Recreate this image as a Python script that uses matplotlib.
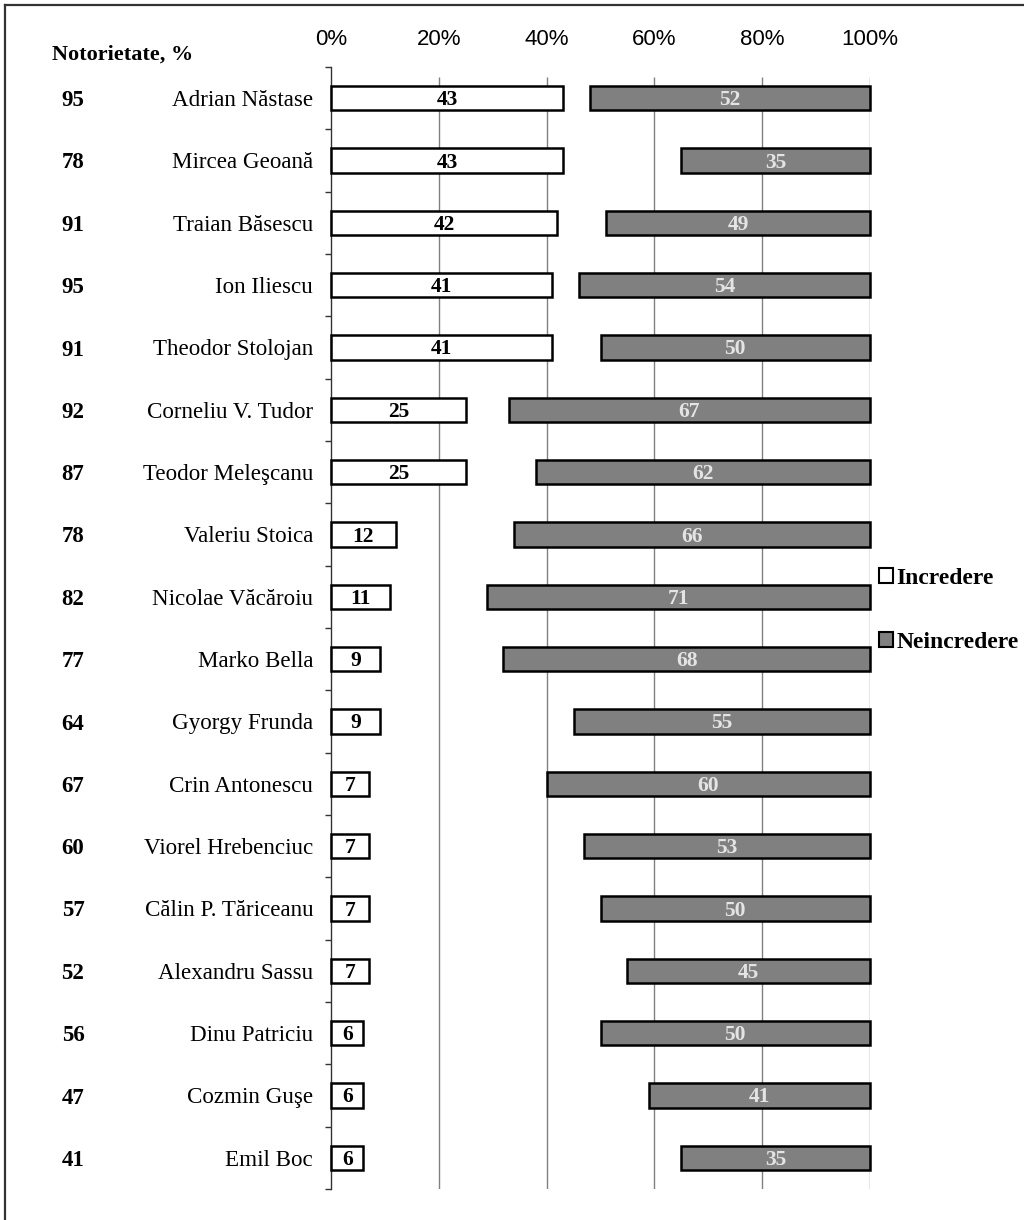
import matplotlib
matplotlib.use("Agg")
import matplotlib.pyplot as plt
import matplotlib.transforms as mtransforms
from matplotlib.patches import Patch
from matplotlib.lines import Line2D

names = ["Adrian Năstase", "Mircea Geoană", "Traian Băsescu", "Ion Iliescu",
         "Theodor Stolojan", "Corneliu V. Tudor", "Teodor Meleşcanu", "Valeriu Stoica",
         "Nicolae Văcăroiu", "Marko Bella", "Gyorgy Frunda", "Crin Antonescu",
         "Viorel Hrebenciuc", "Călin P. Tăriceanu", "Alexandru Sassu", "Dinu Patriciu",
         "Cozmin Guşe", "Emil Boc"]
incredere = [43, 43, 42, 41, 41, 25, 25, 12, 11, 9, 9, 7, 7, 7, 7, 6, 6, 6]
neincredere = [52, 35, 49, 54, 50, 67, 62, 66, 71, 68, 55, 60, 53, 50, 45, 50, 41, 35]
notorietate = [95, 78, 91, 95, 91, 92, 87, 78, 82, 77, 64, 67, 60, 57, 52, 56, 47, 41]
xticks = [0, 20, 40, 60, 80, 100]
xtick_labels = ["0%", "20%", "40%", "60%", "80%", "100%"]

SERIF = ["Liberation Serif", "DejaVu Serif"]
SANS = ["Liberation Sans", "DejaVu Sans"]
GRAY = "#808080"

W, H = 1024, 1220
fig = plt.figure(figsize=(W / 100, H / 100), dpi=100)
ax = fig.add_axes([331 / W, 1 - 1189 / H, 539 / W, (1189 - 67) / H])

n = len(names)
ypos = list(range(n))
bh = 0.39

b1 = ax.barh(ypos, incredere, height=bh, left=0, color="white",
             edgecolor="black", linewidth=1.8, zorder=3)
left_n = [100 - v for v in neincredere]
b2 = ax.barh(ypos, neincredere, height=bh, left=left_n, color=GRAY,
             edgecolor="black", linewidth=1.8, zorder=3)
for p in list(b1) + list(b2):
    p.set_clip_on(False)

ax.set_xlim(0, 100)
ax.set_ylim(n - 0.5, -0.5)

# gridlines
ax.vlines(xticks[1:], -0.34, n - 0.5, color=GRAY, linewidth=1.0, zorder=1)

# spines
for s in ["top", "right", "bottom"]:
    ax.spines[s].set_visible(False)
ax.spines["left"].set_linewidth(1.0)
ax.spines["left"].set_color("#333333")

ax.set_yticks([i - 0.5 for i in range(n + 1)])
ax.set_yticklabels([])
ax.tick_params(axis="y", direction="out", length=4.5, width=1.0, color="#333333")

ax.xaxis.tick_top()
ax.set_xticks(xticks)
ax.set_xticklabels(xtick_labels, fontfamily=SANS, fontsize=16)
ax.tick_params(axis="x", length=0, pad=12)

val_tr = mtransforms.offset_copy(ax.transData, fig, x=0, y=-7, units="dots")
name_tr = mtransforms.offset_copy(ax.transData, fig, x=0, y=-8, units="dots")

for i in range(n):
    ax.text(incredere[i] / 2, i, str(incredere[i]), ha="center", va="baseline",
            transform=val_tr, fontfamily=SERIF, fontweight="bold", fontsize=15.5,
            color="black", zorder=4)
    ax.text(left_n[i] + neincredere[i] / 2, i, str(neincredere[i]), ha="center",
            va="baseline", transform=val_tr, fontfamily=SERIF, fontweight="bold",
            fontsize=15.5, color="#e4e4e4", zorder=4)
    ax.text(-3.3, i, names[i], ha="right", va="baseline", transform=name_tr,
            fontfamily=SERIF, fontsize=16.6, color="black")

trans = mtransforms.blended_transform_factory(fig.transFigure, ax.transData)
num_tr = mtransforms.offset_copy(trans, fig, x=0, y=-8, units="dots")
for i in range(n):
    ax.text(73 / W, i, str(notorietate[i]), transform=num_tr, ha="center",
            va="baseline", fontfamily=SERIF, fontweight="bold", fontsize=16.5,
            color="black")

fig.text(52 / W, 1 - 55 / H, "Notorietate, %", ha="left", va="center",
         fontfamily=SERIF, fontweight="bold", fontsize=16)

handles = [Patch(facecolor="white", edgecolor="black", linewidth=1.5),
           Patch(facecolor=GRAY, edgecolor="black", linewidth=1.5)]
leg = fig.legend(handles, ["Incredere", "Neincredere"], loc="upper left",
                 bbox_to_anchor=(879 / W, 1 - 568 / H), frameon=False,
                 handlelength=0.58, handleheight=0.58, handletextpad=0.15,
                 labelspacing=1.8, borderpad=0, borderaxespad=0,
                 prop={"family": SERIF, "weight": "bold", "size": 17})

# figure border (top and left visible)
fig.add_artist(Line2D([5 / W, 5 / W], [0, 1 - 5 / H], transform=fig.transFigure,
                      color="#333333", linewidth=1.6))
fig.add_artist(Line2D([5 / W, 1], [1 - 5 / H, 1 - 5 / H], transform=fig.transFigure,
                      color="#333333", linewidth=1.6))

fig.savefig("out.png", dpi=100)
